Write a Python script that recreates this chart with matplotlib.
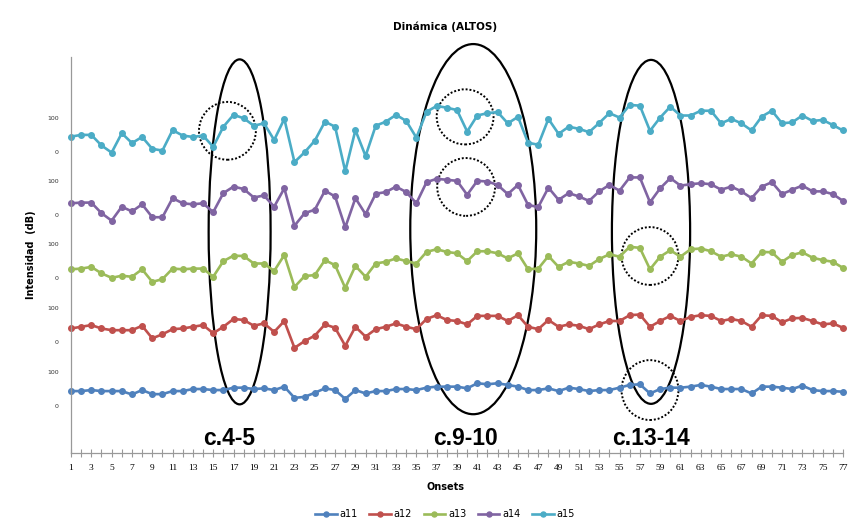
import numpy as np
import matplotlib
matplotlib.use('Agg')
import matplotlib.pyplot as plt
from matplotlib.patches import Ellipse

# onsets and intensities (dB) per voice
onsets = np.arange(1, 78)
a11 = [44, 44, 47, 44, 44, 44, 34, 47, 35, 35, 44, 44, 50, 50, 47, 47, 54, 54, 50, 52,
       47, 57, 24, 27, 39, 52, 47, 21, 47, 37, 44, 44, 50, 50, 47, 54, 57, 57, 57,
       52, 67, 64, 67, 62, 57, 47, 47, 52, 44, 54, 50, 44, 47, 47, 54, 62, 64, 37,
       50, 54, 54, 57, 62, 57, 50, 50, 50, 37, 57, 57, 54, 50, 60, 47, 44, 44, 42]
a12 = [40, 45, 50, 40, 35, 35, 35, 48, 11, 23, 38, 40, 45, 50, 26, 45, 68, 65, 48, 55,
       30, 62, -17, 3, 19, 52, 42, -11, 45, 16, 38, 45, 55, 45, 38, 68, 79, 65, 62,
       52, 77, 77, 77, 62, 79, 45, 38, 65, 45, 52, 48, 38, 52, 62, 62, 79, 81, 45,
       62, 77, 62, 74, 79, 77, 62, 68, 62, 45, 79, 77, 58, 70, 71, 62, 52, 55, 42]
a13 = [26, 28, 33, 14, 1, 7, 4, 26, -11, -3, 28, 26, 28, 28, 4, 50, 66, 65, 43, 43,
       21, 68, -26, 6, 9, 53, 38, -29, 36, 4, 43, 48, 58, 50, 43, 77, 85, 77, 73,
       50, 79, 79, 73, 58, 73, 26, 28, 65, 33, 48, 43, 36, 56, 70, 63, 92, 89, 26,
       63, 82, 63, 85, 87, 79, 63, 70, 63, 43, 77, 76, 48, 68, 76, 60, 53, 48, 30]
a14 = [34, 36, 36, 5, -17, 24, 10, 31, -7, -7, 49, 34, 31, 34, 8, 64, 83, 76, 51, 57,
       24, 78, -32, 5, 15, 71, 54, -37, 49, 2, 62, 67, 83, 67, 34, 96, 106, 103, 100,
       59, 100, 98, 88, 61, 88, 29, 23, 80, 44, 64, 54, 41, 69, 88, 71, 110, 110, 37,
       78, 108, 86, 90, 93, 90, 74, 83, 69, 49, 83, 96, 61, 74, 86, 69, 69, 61, 41]
a15 = [45, 50, 50, 19, -2, 55, 26, 44, 9, 4, 64, 48, 44, 48, 15, 74, 109, 99, 77, 84,
       35, 97, -30, -1, 33, 89, 74, -57, 64, -12, 77, 89, 109, 91, 42, 118, 135, 130, 123,
       60, 107, 114, 117, 84, 103, 27, 21, 97, 53, 74, 68, 58, 85, 114, 101, 138, 136, 62,
       101, 133, 107, 107, 121, 121, 84, 97, 84, 63, 104, 121, 84, 87, 107, 91, 94, 79, 63]

names = ['a11', 'a12', 'a13', 'a14', 'a15']
series = [a11, a12, a13, a14, a15]
colors = ['#4F81BD', '#C0504D', '#9BBB59', '#8064A2', '#4BACC6']
offsets = [0, 188, 376, 562, 747]   # stacked baselines of each voice

# sections (compases) marked on the chart
sections = ['c.4-5', 'c.9-10', 'c.13-14']
section_x = [16.6, 39.8, 58.1]

W, H = 851, 521
fig = plt.figure(figsize=(W / 100, H / 100), dpi=100)
ax = fig.add_axes([71 / W, 1 - 453 / H, (843 - 71) / W, (453 - 57) / H])

for name, vals, c, off in zip(names, series, colors, offsets):
    ax.plot(onsets, np.array(vals) + off, color=c, lw=1.9, marker='o', ms=4,
            label=name, clip_on=False)

ax.set_xlim(1, 77)
ax.set_ylim(-138, 1026)

# y ticks: 0 / 100 per voice
yt = []
for off in offsets:
    yt += [off, off + 100]
ax.set_yticks(yt)
ax.set_yticklabels(['0', '100'] * len(offsets), fontsize=4.5, color='#333333')
ax.tick_params(axis='y', length=0, pad=9)

ax.set_xticks(onsets)
ax.set_xticklabels([str(i) if i % 2 == 1 else '' for i in onsets],
                   fontsize=6.8, family='Liberation Serif')
ax.tick_params(axis='x', direction='inout', length=6, width=0.8, color='#999999',
               pad=5)

for s in ['top', 'right']:
    ax.spines[s].set_visible(False)
for s in ['left', 'bottom']:
    ax.spines[s].set_color('#999999')
    ax.spines[s].set_linewidth(0.9)

# big solid ellipses around sections
ax.add_patch(Ellipse((17.6, 512), 6.1, 1014, fill=False, ec='black', lw=1.6,
                     clip_on=False))
ax.add_patch(Ellipse((40.6, 520), 12.4, 1088, fill=False, ec='black', lw=1.6,
                     clip_on=False))
ax.add_patch(Ellipse((58.1, 512), 7.7, 1011, fill=False, ec='black', lw=1.6,
                     clip_on=False))

# dotted circles on highlighted points
dotted = [(16.4, offsets[4] + 62, 5.6, 170),
          (39.8, offsets[4] + 103, 5.6, 162),
          (39.9, offsets[3] + 82, 5.7, 170),
          (58.0, offsets[2] + 65, 5.6, 170),
          (58.0, offsets[0] + 47, 5.6, 176)]
for (cx, cy, w, h) in dotted:
    ax.add_patch(Ellipse((cx, cy), w, h, fill=False, ec='black', lw=1.4,
                         ls=(0, (1, 1)), clip_on=False))

for lab, sx in zip(sections, section_x):
    ax.text(sx, -96, lab, ha='center', va='center', fontsize=16.5,
            fontweight='bold', family='Liberation Sans')

fig.text(445 / W, 1 - 27 / H, 'Dinámica (ALTOS)', ha='center', va='center',
         fontsize=7.5, fontweight='bold')
fig.text(445 / W, 1 - 487 / H, 'Onsets', ha='center', va='center',
         fontsize=7, fontweight='bold')
fig.text(31 / W, 1 - 255 / H, 'Intensidad  (dB)', ha='center', va='center',
         fontsize=7, fontweight='bold', rotation=90)

fig.legend(loc='center', bbox_to_anchor=(445 / W, 1 - 514 / H), ncol=5,
           frameon=False, fontsize=7, handlelength=2.2, columnspacing=1.2,
           handletextpad=0.3, markerscale=0.9)

fig.savefig('out.png', dpi=100)
